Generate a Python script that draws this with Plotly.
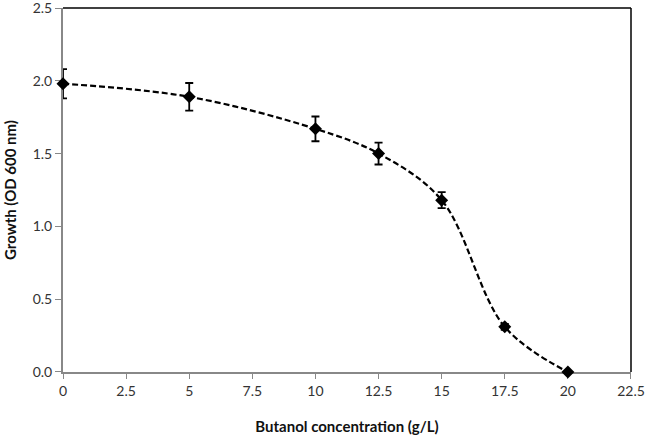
import plotly.graph_objects as go

conc = [0, 5, 10, 12.5, 15, 17.5, 20]
growth = [1.98, 1.89, 1.67, 1.50, 1.18, 0.31, 0.0]
err = [0.10, 0.095, 0.085, 0.075, 0.055, 0.02, 0.0]

x_ticks = [0, 2.5, 5, 7.5, 10, 12.5, 15, 17.5, 20, 22.5]
x_tick_labels = ["0", "2.5", "5", "7.5", "10", "12.5", "15", "17.5", "20", "22.5"]
y_ticks = [0, 0.5, 1.0, 1.5, 2.0, 2.5]
y_tick_labels = ["0.0", "0.5", "1.0", "1.5", "2.0", "2.5"]

FONT = "Lato, Open Sans, sans-serif"

fig = go.Figure()
fig.add_trace(go.Scatter(
    x=conc, y=growth, mode="lines",
    line=dict(color="black", width=2.2, dash="6px,3px", shape="spline", smoothing=1.0),
    hoverinfo="skip", showlegend=False, cliponaxis=False,
))
fig.add_trace(go.Scatter(
    x=conc, y=growth, mode="markers",
    marker=dict(symbol="diamond", size=10, color="black"),
    error_y=dict(type="data", array=err, visible=True, color="black", thickness=1.8, width=4),
    showlegend=False, cliponaxis=False,
))

fig.update_layout(
    template="none",
    width=645, height=438,
    margin=dict(l=63, r=14, t=8, b=66, autoexpand=False),
    paper_bgcolor="white", plot_bgcolor="white",
    font=dict(family=FONT, size=14, color="#333"),
    xaxis=dict(
        automargin=False, layer="below traces",
        range=[-0.0005, 22.5005], tickvals=x_ticks, ticktext=x_tick_labels,
        showgrid=False, zeroline=False, showline=True, linecolor="#888", linewidth=2,
        ticks="outside", tickcolor="#888", ticklen=5, tickwidth=1,
        title=dict(text="<b>Butanol concentration (g/L)</b>", font=dict(size=15, color="#111"), standoff=24),
        tickfont=dict(size=14, color="#333"),
        ticklabeloverflow="allow",
    ),
    yaxis=dict(
        automargin=False, layer="below traces",
        range=[-0.0001, 2.5001], tickvals=y_ticks, ticktext=y_tick_labels,
        showgrid=False, zeroline=False, showline=True, linecolor="#888", linewidth=2,
        ticks="outside", tickcolor="#888", ticklen=6, tickwidth=1,
        title=dict(text="<b>Growth (OD 600 nm)</b>", font=dict(size=15, color="#111"), standoff=12),
        tickfont=dict(size=14, color="#333"),
        ticklabeloverflow="allow",
    ),
    shapes=[
        dict(type="line", xref="x domain", yref="y domain", x0=0, x1=1, y0=1, y1=1,
             line=dict(color="black", width=1.5), layer="below"),
        dict(type="line", xref="x domain", yref="y domain", x0=1, x1=1, y0=0, y1=1,
             line=dict(color="black", width=1.5), layer="below"),
    ],
)

fig.write_html("out.html", config={"displayModeBar": False},
               post_script="document.body.style.margin='0';document.body.style.overflow='hidden';")
